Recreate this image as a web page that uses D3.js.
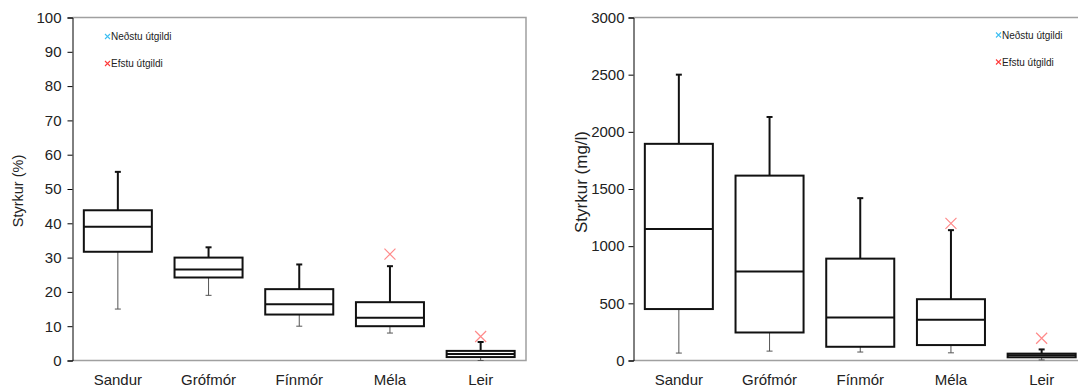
<!DOCTYPE html>
<html>
<head>
<meta charset="utf-8">
<script src="https://cdn.jsdelivr.net/npm/d3@7"></script>
<style>
  body { margin: 0; background: #fff; }
  svg { display: block; font-family: "Liberation Sans", Arial, sans-serif; }
</style>
</head>
<body>
<svg id="chart" width="1078" height="387"></svg>
<script>
var categories = ['Sandur', 'Grófmór', 'Fínmór', 'Méla', 'Leir'];

// Styrkur (%)
var pctMin = [15, 19, 10, 8, 0];
var pctQ1 = [31.7, 24.2, 13.4, 10, 1];
var pctMedian = [39, 26.5, 16.4, 12.5, 1.9];
var pctQ3 = [43.8, 30, 20.8, 17, 2.8];
var pctMax = [55, 33, 28, 27.5, 5.4];
var pctOutlier = [null, null, null, 31, 7];
var pctTicks = [0, 10, 20, 30, 40, 50, 60, 70, 80, 90, 100];

// Styrkur (mg/l)
var mglMin = [65, 82, 74, 67, 5];
var mglQ1 = [450, 245, 120, 135, 28];
var mglMedian = [1150, 779, 377, 356, 45];
var mglQ3 = [1895, 1617, 891, 536, 60];
var mglMax = [2500, 2130, 1420, 1140, 97];
var mglOutlier = [null, null, null, 1200, 195];
var mglTicks = [0, 500, 1000, 1500, 2000, 2500, 3000];

var legendLabels = ['Neðstu útgildi', 'Efstu útgildi'];
var legendColors = ['#3fbff2', '#ff3b3b'];

var svg = d3.select('#chart');

/**
 * Draws one box plot panel
 */
function drawPanel(opts) {
  var g = svg.append('g');
  var x = d3.scaleBand().domain(categories).range([opts.left, opts.right]);
  var y = d3.scaleLinear().domain([0, opts.ticks[opts.ticks.length - 1]]).range([360.5, 17.5]);
  var boxW = x.bandwidth() * 0.75;
  var capW = 6;

  // frame: top, right, bottom in grey
  g.append('path')
      .attr('d', 'M' + opts.left + ',' + y.range()[1] + 'H' + opts.right + 'V' + y.range()[0] + 'H' + opts.left)
      .attr('fill', 'none')
      .attr('stroke', '#a0a0a0')
      .attr('stroke-width', 1.5);

  var yAxis = g.append('g')
      .attr('transform', 'translate(' + opts.left + ',0)')
      .call(d3.axisLeft(y).tickValues(opts.ticks).tickSize(5).tickPadding(opts.tickPad).tickFormat(d3.format('d')));
  yAxis.select('.domain').attr('stroke', '#000').attr('stroke-width', 1);
  yAxis.selectAll('.tick line').attr('stroke', '#000');
  yAxis.selectAll('text').attr('font-size', '15px').attr('fill', '#222')
      .attr('font-family', '"Liberation Sans", Arial, sans-serif');

  g.selectAll('.xlab').data(categories).enter().append('text')
      .attr('x', function(d) { return x(d) + x.bandwidth() / 2; })
      .attr('y', 385)
      .attr('text-anchor', 'middle')
      .attr('font-size', '15px')
      .attr('fill', '#222')
      .text(function(d) { return d; });

  g.append('text')
      .attr('transform', 'translate(' + opts.titleX + ',' + opts.titleY + ') rotate(-90)')
      .attr('text-anchor', 'middle')
      .attr('font-size', opts.titleSize)
      .attr('fill', '#222')
      .text(opts.title);

  var items = g.selectAll('.box').data(categories).enter().append('g');
  items.each(function(d, i) {
    var b = d3.select(this);
    var cx = x(d) + x.bandwidth() / 2;
    // lower whisker, thin
    b.append('line').attr('x1', cx).attr('x2', cx)
        .attr('y1', y(opts.q1[i])).attr('y2', y(opts.min[i]))
        .attr('stroke', '#555').attr('stroke-width', 1);
    b.append('line').attr('x1', cx - capW / 2).attr('x2', cx + capW / 2)
        .attr('y1', y(opts.min[i])).attr('y2', y(opts.min[i]))
        .attr('stroke', '#555').attr('stroke-width', 1);
    // upper whisker, heavy
    b.append('line').attr('x1', cx).attr('x2', cx)
        .attr('y1', y(opts.q3[i])).attr('y2', y(opts.max[i]))
        .attr('stroke', '#111').attr('stroke-width', 2);
    b.append('line').attr('x1', cx - capW / 2).attr('x2', cx + capW / 2)
        .attr('y1', y(opts.max[i])).attr('y2', y(opts.max[i]))
        .attr('stroke', '#111').attr('stroke-width', 2);
    b.append('rect')
        .attr('x', cx - boxW / 2).attr('width', boxW)
        .attr('y', y(opts.q3[i])).attr('height', y(opts.q1[i]) - y(opts.q3[i]))
        .attr('fill', '#fff').attr('stroke', '#111').attr('stroke-width', 2);
    b.append('line').attr('x1', cx - boxW / 2).attr('x2', cx + boxW / 2)
        .attr('y1', y(opts.median[i])).attr('y2', y(opts.median[i]))
        .attr('stroke', '#111').attr('stroke-width', 2);
    if (opts.outlier[i] !== null) {
      var oy = y(opts.outlier[i]);
      b.append('path')
          .attr('d', 'M' + (cx - 5.5) + ',' + (oy - 5.5) + 'l11,11M' + (cx - 5.5) + ',' + (oy + 5.5) + 'l11,-11')
          .attr('stroke', '#ff8a8a').attr('stroke-width', 1.2).attr('fill', 'none');
    }
  });

  // legend
  var lg = g.selectAll('.leg').data(legendLabels).enter().append('g')
      .attr('transform', function(d, i) { return 'translate(' + opts.legendX + ',' + (opts.legendY + i * 27) + ')'; });
  lg.append('path')
      .attr('d', 'M-2.5,-2.5l5,5M-2.5,2.5l5,-5')
      .attr('stroke', function(d, i) { return legendColors[i]; })
      .attr('stroke-width', 1.1);
  lg.append('text')
      .attr('x', 3.5).attr('y', 3.5)
      .attr('font-size', '10px')
      .attr('fill', '#222')
      .text(function(d) { return d; });
}

drawPanel({
  left: 72.5, right: 526, ticks: pctTicks, tickPad: 6,
  title: 'Styrkur (%)', titleX: 23, titleY: 191, titleSize: '14.5px',
  min: pctMin, q1: pctQ1, median: pctMedian, q3: pctQ3, max: pctMax, outlier: pctOutlier,
  legendX: 107.5, legendY: 36.5
});

drawPanel({
  left: 633.5, right: 1087, ticks: mglTicks, tickPad: 4,
  title: 'Styrkur (mg/l)', titleX: 587, titleY: 182, titleSize: '17px',
  min: mglMin, q1: mglQ1, median: mglMedian, q3: mglQ3, max: mglMax, outlier: mglOutlier,
  legendX: 998.5, legendY: 35
});
</script>
</body>
</html>
